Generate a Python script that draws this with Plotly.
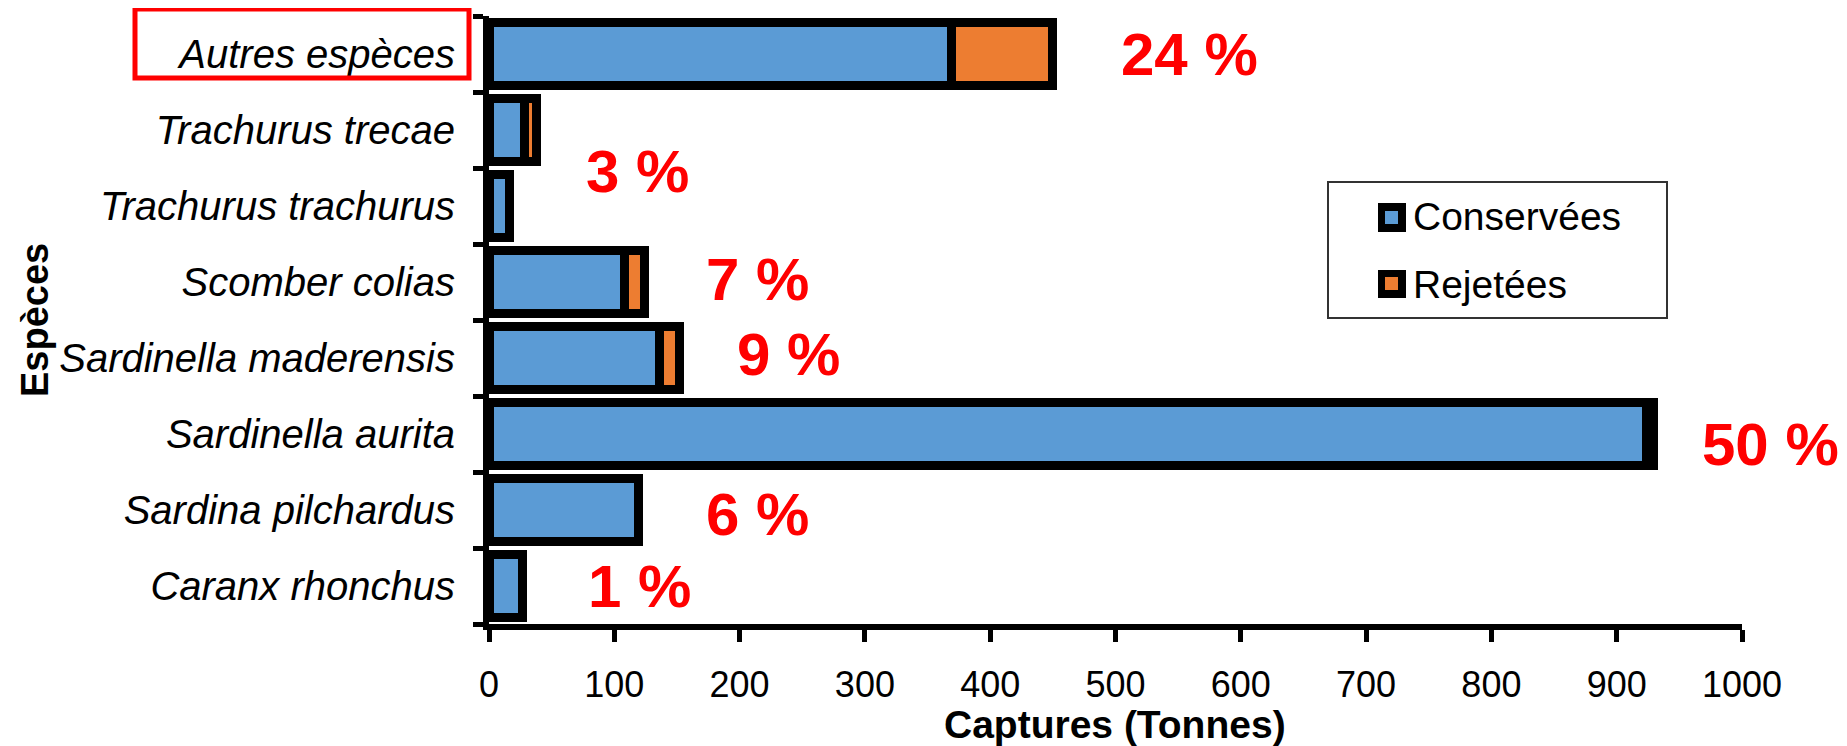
import plotly.graph_objects as go

# ---- data ----
species = ["Caranx rhonchus", "Sardina pilchardus", "Sardinella aurita",
           "Sardinella maderensis", "Scomber colias", "Trachurus trachurus",
           "Trachurus trecae", "Autres espèces"]
conservees = [27, 119, 924, 136, 108, 16, 28, 369]
rejetees = [0, 0, 5, 16, 16, 0, 10, 81]
pct_labels = ["1 %", "6 %", "50 %", "9 %", "7 %", "", "3 %", "24 %"]
x_ticks = [0, 100, 200, 300, 400, 500, 600, 700, 800, 900, 1000]

BLUE = "#5B9BD5"
ORANGE = "#ED7D31"
FONT = "Liberation Sans, Arial, sans-serif"

# page body has an 8px margin: work in screen pixels, figure is offset by OFF
OFF = 8
SL, SR, ST, SB = 489, 1742, 16, 624      # plot area on screen
W, H = 1847 - OFF, 746 - OFF
L, R, T, B = SL - OFF, SR - OFF, ST - OFF, SB - OFF

def px(p):
    return (p - SL) / (SR - SL)

def py(p):
    return (SB - p) / (SB - ST)

fig = go.Figure()
fig.add_trace(go.Bar(
    y=species, x=conservees, orientation="h", name="Conservées",
    marker=dict(color=BLUE, line=dict(color="black", width=9)),
    showlegend=False))
fig.add_trace(go.Bar(
    y=species, x=[v if v else None for v in rejetees], orientation="h", name="Rejetées",
    marker=dict(color=ORANGE, line=dict(color="black", width=9)),
    showlegend=False))

# percentage labels (placed right of the bar totals)
totals = [c + r for c, r in zip(conservees, rejetees)]
label_place = {  # index: (reference bar index, y position, xshift px, yshift px)
    0: (0, 0, 63, 0),
    1: (1, 1, 66, -4),
    2: (2, 2, 47, -10),
    3: (3, 3, 56, 4),
    4: (4, 4, 60, 3),
    6: (6, 5.5, 47, -3),
    7: (7, 7, 66, 0),
}
annotations = []
for i, (ref, yv, xs, ys) in label_place.items():
    annotations.append(dict(
        x=totals[ref], y=yv, xref="x", yref="y", text=pct_labels[i],
        showarrow=False, xanchor="left", yanchor="middle", xshift=xs, yshift=ys,
        font=dict(family=FONT, size=60, color="#FF0000", weight="bold")))

# axis titles
annotations.append(dict(
    x=px(1115), y=py(724), xref="paper", yref="paper", text="Captures (Tonnes)",
    showarrow=False, xanchor="center", yanchor="middle",
    font=dict(family=FONT, size=39, color="black", weight="bold")))
annotations.append(dict(
    x=px(35), y=py(320), xref="paper", yref="paper", text="Espèces",
    showarrow=False, xanchor="center", yanchor="middle", textangle=-90,
    font=dict(family=FONT, size=38, color="black", weight="bold")))

# manual legend
annotations.append(dict(
    x=px(1411), y=py(216), xref="paper", yref="paper", text="Conservées",
    showarrow=False, xanchor="left", yanchor="middle",
    font=dict(family=FONT, size=39, color="black")))
annotations.append(dict(
    x=px(1411), y=py(284), xref="paper", yref="paper", text="Rejetées",
    showarrow=False, xanchor="left", yanchor="middle",
    font=dict(family=FONT, size=39, color="black")))

shapes = [
    dict(type="rect", xref="paper", yref="paper",
         x0=px(1328), x1=px(1667), y0=py(182), y1=py(318),
         line=dict(color="#333333", width=2), fillcolor="white", layer="above"),
    dict(type="rect", xref="paper", yref="paper",
         x0=px(1378), x1=px(1406), y0=py(203), y1=py(232),
         line=dict(width=0), fillcolor="black", layer="above"),
    dict(type="rect", xref="paper", yref="paper",
         x0=px(1385), x1=px(1398), y0=py(211), y1=py(224),
         line=dict(width=0), fillcolor=BLUE, layer="above"),
    dict(type="rect", xref="paper", yref="paper",
         x0=px(1378), x1=px(1406), y0=py(270), y1=py(298),
         line=dict(width=0), fillcolor="black", layer="above"),
    dict(type="rect", xref="paper", yref="paper",
         x0=px(1385), x1=px(1398), y0=py(277), y1=py(290),
         line=dict(width=0), fillcolor=ORANGE, layer="above"),
    # red frame around "Autres espèces"
    dict(type="rect", xref="paper", yref="paper",
         x0=px(135), x1=px(469), y0=py(9), y1=py(78),
         line=dict(color="#FF0000", width=5)),
]

fig.update_layout(
    width=W, height=H,
    margin=dict(l=L, r=W - R, t=T, b=H - B, autoexpand=False),
    barmode="stack", bargap=0.165,
    plot_bgcolor="white", paper_bgcolor="white",
    font=dict(family=FONT, color="black"),
    annotations=annotations, shapes=shapes,
    showlegend=False,
    xaxis=dict(range=[0, 1000], tickvals=x_ticks, ticks="outside", ticklen=12,
               tickwidth=5, tickcolor="black", showline=True, linewidth=6,
               linecolor="black", showgrid=False, zeroline=False,
               tickfont=dict(family=FONT, size=36, color="black"),
               ticklabelstandoff=12),
    yaxis=dict(categoryorder="array", categoryarray=species, ticks="outside",
               tickson="boundaries", ticklen=10, tickwidth=5, tickcolor="black",
               showline=True, linewidth=6, linecolor="black", showgrid=False,
               zeroline=False, ticklabelstandoff=20,
               tickfont=dict(family=FONT, size=40, color="black", style="italic")),
)

fig.write_html("out.html")
